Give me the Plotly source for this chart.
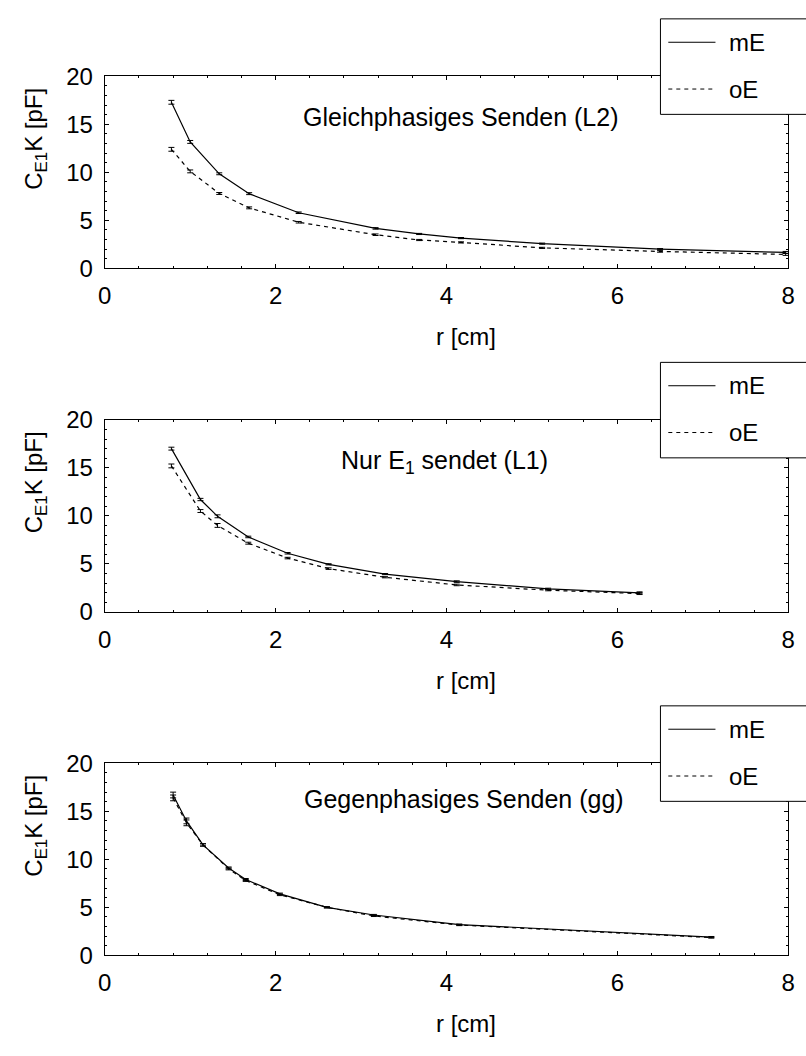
import plotly.graph_objects as go

# ---- data: capacitance C_E1K [pF] versus distance r [cm] ----
# Gleichphasiges Senden (L2)
r_l2 = [0.78, 1.00, 1.34, 1.69, 2.27, 3.17, 3.68, 4.17, 5.12, 6.50, 7.97]
me_l2 = [17.3, 13.17, 9.85, 7.78, 5.79, 4.16, 3.58, 3.15, 2.57, 2.00, 1.66]
oe_l2 = [12.4, 10.1, 7.8, 6.3, 4.8, 3.5, 2.95, 2.7, 2.13, 1.76, 1.45]
me_l2_err = [0.2, 0.15, 0.1, 0.1, 0.08, 0.08, 0.06, 0.06, 0.06, 0.06, 0.1]
oe_l2_err = [0.2, 0.15, 0.1, 0.1, 0.08, 0.08, 0.06, 0.06, 0.06, 0.08, 0.1]

# Nur E1 sendet (L1)
r_l1 = [0.78, 1.12, 1.32, 1.68, 2.14, 2.62, 3.28, 4.12, 5.19, 6.26]
me_l1 = [17.0, 11.7, 9.95, 7.8, 6.1, 4.95, 3.93, 3.15, 2.4, 1.98]
oe_l1 = [15.2, 10.5, 9.0, 7.15, 5.6, 4.5, 3.6, 2.8, 2.25, 1.9]
me_l1_err = [0.15, 0.12, 0.15, 0.08, 0.08, 0.06, 0.06, 0.08, 0.06, 0.1]
oe_l1_err = [0.2, 0.15, 0.2, 0.1, 0.08, 0.08, 0.06, 0.08, 0.06, 0.1]

# Gegenphasiges Senden (gg)
r_gg = [0.80, 0.956, 1.15, 1.45, 1.65, 2.05, 2.60, 3.15, 4.15, 7.10]
me_gg = [16.7, 14.0, 11.5, 9.1, 7.9, 6.4, 5.0, 4.2, 3.2, 1.9]
oe_gg = [16.4, 13.8, 11.5, 9.0, 7.8, 6.3, 5.0, 4.1, 3.15, 1.85]
me_gg_err = [0.3, 0.3, 0.12, 0.1, 0.1, 0.08, 0.06, 0.06, 0.06, 0.06]
oe_gg_err = [0.3, 0.3, 0.12, 0.1, 0.1, 0.08, 0.06, 0.06, 0.06, 0.06]

panel_titles = ["Gleichphasiges Senden (L2)", "Nur E<sub>1</sub> sendet (L1)",
                "Gegenphasiges Senden (gg)"]
title_pos = [(4.16, 15.8), (3.98, 15.6), (4.2, 16.3)]
series_names = ["mE", "oE"]
x_ticks = [0, 2, 4, 6, 8]
y_ticks = [0, 5, 10, 15, 20]

panels = [
    (r_l2, me_l2, me_l2_err, oe_l2, oe_l2_err),
    (r_l1, me_l1, me_l1_err, oe_l1, oe_l1_err),
    (r_gg, me_gg, me_gg_err, oe_gg, oe_gg_err),
]

# ---- page geometry (pixels) ----
W, H = 806, 1056
FONT = "Liberation Sans"
DASH = "4px,4px"
plot_left, plot_right = 99.5, 795.0
panel_tops = [64.0, 416.5, 769.0]
panel_h = 197.0


def px_x(p):
    return p / W


def px_y(p):
    return 1 - p / H


fig = go.Figure()
layout = dict(
    width=W, height=H,
    margin=dict(l=0, r=0, t=0, b=0),
    plot_bgcolor="white", paper_bgcolor="white",
    showlegend=False,
    font=dict(family=FONT, size=24, color="black"),
)

shapes = []
annotations = []

for i, (r, me, me_err, oe, oe_err) in enumerate(panels):
    n = "" if i == 0 else str(i + 1)
    xa, ya = "x" + n, "y" + n
    top = panel_tops[i]
    bottom = top + panel_h

    for vals, errs, dash, name in ((me, me_err, "solid", series_names[0]),
                                   (oe, oe_err, DASH, series_names[1])):
        fig.add_trace(go.Scatter(
            x=r, y=vals, name=name, mode="lines",
            line=dict(color="black", width=1.2, dash=dash),
            error_y=dict(type="data", array=errs, visible=True,
                         color="black", thickness=1, width=3),
            xaxis=xa, yaxis=ya,
        ))

    common = dict(
        showline=True, linecolor="black", linewidth=1, mirror="allticks",
        ticks="inside", ticklen=4, tickcolor="black", tickwidth=1,
        showgrid=False, zeroline=False,
        tickfont=dict(family=FONT, size=24, color="black"),
    )
    layout["xaxis" + n] = dict(
        common, domain=[px_x(plot_left), px_x(plot_right)],
        range=[0, 8], tickvals=x_ticks, anchor=ya, ticklabelstandoff=6,
        minor=dict(dtick=0.4, tick0=0, ticks="inside", ticklen=2,
                   tickcolor="black"),
    )
    layout["yaxis" + n] = dict(
        common, domain=[px_y(bottom), px_y(top)],
        range=[0, 20], tickvals=y_ticks, anchor=xa, ticklabelstandoff=6,
        minor=dict(dtick=1, tick0=0, ticks="inside", ticklen=2,
                   tickcolor="black"),
    )

    # panel caption inside the plot area
    tx, ty = title_pos[i]
    annotations.append(dict(
        x=tx, y=ty, xref=xa, yref=ya, text=panel_titles[i], showarrow=False,
        xanchor="center", yanchor="middle",
        font=dict(family=FONT, size=25, color="black"),
    ))

    # axis titles
    annotations.append(dict(
        x=px_x(29), y=px_y(top + 63.5), xref="paper", yref="paper",
        text="C<sub>E1</sub>K [pF]", textangle=-90, showarrow=False,
        xanchor="center", yanchor="middle",
        font=dict(family=FONT, size=24, color="black"),
    ))
    annotations.append(dict(
        x=px_x(467), y=px_y(bottom + 70), xref="paper", yref="paper",
        text="r [cm]", showarrow=False, xanchor="center", yanchor="middle",
        font=dict(family=FONT, size=24, color="black"),
    ))

    # legend box overlapping the upper right corner, open to the page edge
    lg_top = top - 59
    lg_bot = top + 39
    shapes.append(dict(
        type="rect", xref="paper", yref="paper", layer="above",
        x0=px_x(665), x1=px_x(W + 30), y0=px_y(lg_bot), y1=px_y(lg_top),
        fillcolor="white", line=dict(color="black", width=1),
    ))
    for k, (dash, name) in enumerate((("solid", series_names[0]),
                                      (DASH, series_names[1]))):
        yy = lg_top + 24 + 48 * k
        shapes.append(dict(
            type="line", xref="paper", yref="paper", layer="above",
            x0=px_x(673), x1=px_x(721), y0=px_y(yy), y1=px_y(yy),
            line=dict(color="black", width=1, dash=dash),
        ))
        annotations.append(dict(
            x=px_x(733), y=px_y(yy), xref="paper", yref="paper",
            text=name, showarrow=False, xanchor="left", yanchor="middle",
            font=dict(family=FONT, size=24, color="black"),
        ))

layout["shapes"] = shapes
layout["annotations"] = annotations
fig.update_layout(**layout)
fig.write_html("out.html")
